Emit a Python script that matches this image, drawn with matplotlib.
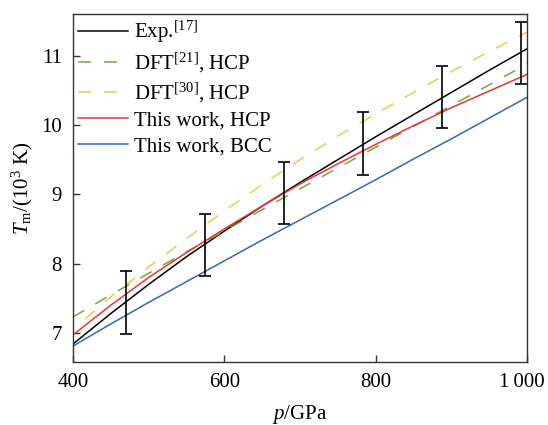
import matplotlib
matplotlib.use('Agg')

import numpy as np
import matplotlib.pyplot as plt
from matplotlib.transforms import ScaledTranslation

plt.rcParams['font.family'] = 'Liberation Serif'
plt.rcParams['mathtext.fontset'] = 'custom'
plt.rcParams['mathtext.rm'] = 'Liberation Serif'
plt.rcParams['mathtext.it'] = 'Liberation Serif:italic'

# Exp. error bars
exp_p = [470, 574, 679, 783, 887, 992]
exp_T = [7.44, 8.27, 9.02, 9.73, 10.40, 11.04]
exp_err = [0.45, 0.45, 0.45, 0.45, 0.45, 0.45]

p_grid = [400, 450, 500, 550, 600, 650, 700, 750, 800, 850, 900, 950, 1000]

# Exp. fitted curve
exp_line_T = [6.84, 7.28, 7.70, 8.10, 8.47, 8.83, 9.17, 9.50, 9.83, 10.15, 10.47, 10.79, 11.10]

# DFT[21], HCP
dft21_T = [7.23, 7.55, 7.86, 8.17, 8.47, 8.78, 9.08, 9.38, 9.68, 9.98, 10.28, 10.58, 10.88]

# DFT[30], HCP
dft30_p = [416, 450, 500, 550, 600, 650, 700, 750, 800, 850, 900, 950, 1000]
dft30_T = [7.20, 7.52, 7.95, 8.36, 8.76, 9.14, 9.50, 9.84, 10.16, 10.47, 10.77, 11.06, 11.34]

# This work, HCP
hcp_T = [6.97, 7.40, 7.80, 8.16, 8.50, 8.83, 9.15, 9.44, 9.72, 9.99, 10.25, 10.49, 10.73]

# This work, BCC
bcc_T = [6.81, 7.13, 7.44, 7.74, 8.04, 8.34, 8.63, 8.92, 9.21, 9.51, 9.80, 10.10, 10.40]

x_ticks = [400, 600, 800, 1000]
x_ticklabels = ['400', '600', '800', '1\u2009000']
y_ticks = [7, 8, 9, 10, 11]

fig = plt.figure(figsize=(5.48, 4.25), dpi=100)
ax = fig.add_axes([0.133, 0.148, 0.829, 0.819])

lw = 1.1
ax.plot(p_grid, exp_line_T, color='black', lw=lw, label=r'Exp.$^{[17]}$')
ax.plot(p_grid, dft21_T, color='#70a840', lw=lw, dashes=(8.5, 8.5), label=r'DFT$^{[21]}$, HCP')
ax.plot(dft30_p, dft30_T, color='#f2c84a', lw=lw, dashes=(8.5, 8.5), label=r'DFT$^{[30]}$, HCP')
ax.plot(p_grid, hcp_T, color='#ee3333', lw=lw, label='This work, HCP')
ax.plot(p_grid, bcc_T, color='#3366c0', lw=lw, label='This work, BCC')
ax.errorbar(exp_p, exp_T, yerr=exp_err, fmt='none', ecolor='black',
            elinewidth=1.2, capsize=4, capthick=1.2)

ax.set_xlim(400, 1000)
ax.set_ylim(6.58, 11.6)
ax.set_xticks(x_ticks)
ax.set_xticklabels(x_ticklabels)
ax.set_yticks(y_ticks)
ax.tick_params(direction='in', labelsize=15, length=5, width=1, color='#333333', pad=8)
for s in ax.spines.values():
    s.set_color('#333333')
    s.set_linewidth(1)

# nudge the last x label left so it stays inside the figure
last = ax.xaxis.get_major_ticks()[-1].label1
last.set_transform(last.get_transform() + ScaledTranslation(-0.05, 0, fig.dpi_scale_trans))

ax.set_xlabel(r'$p$/GPa', fontsize=15, labelpad=8)
ax.set_ylabel(r'$T_\mathrm{m}$/(10$^3$ K)', fontsize=15, labelpad=4)

ax.legend(loc='upper left', frameon=False, fontsize=15, handlelength=2.4,
          labelspacing=0.28, borderaxespad=0.0, borderpad=0.25, handletextpad=0.3)

fig.savefig('out.png', dpi=100)
